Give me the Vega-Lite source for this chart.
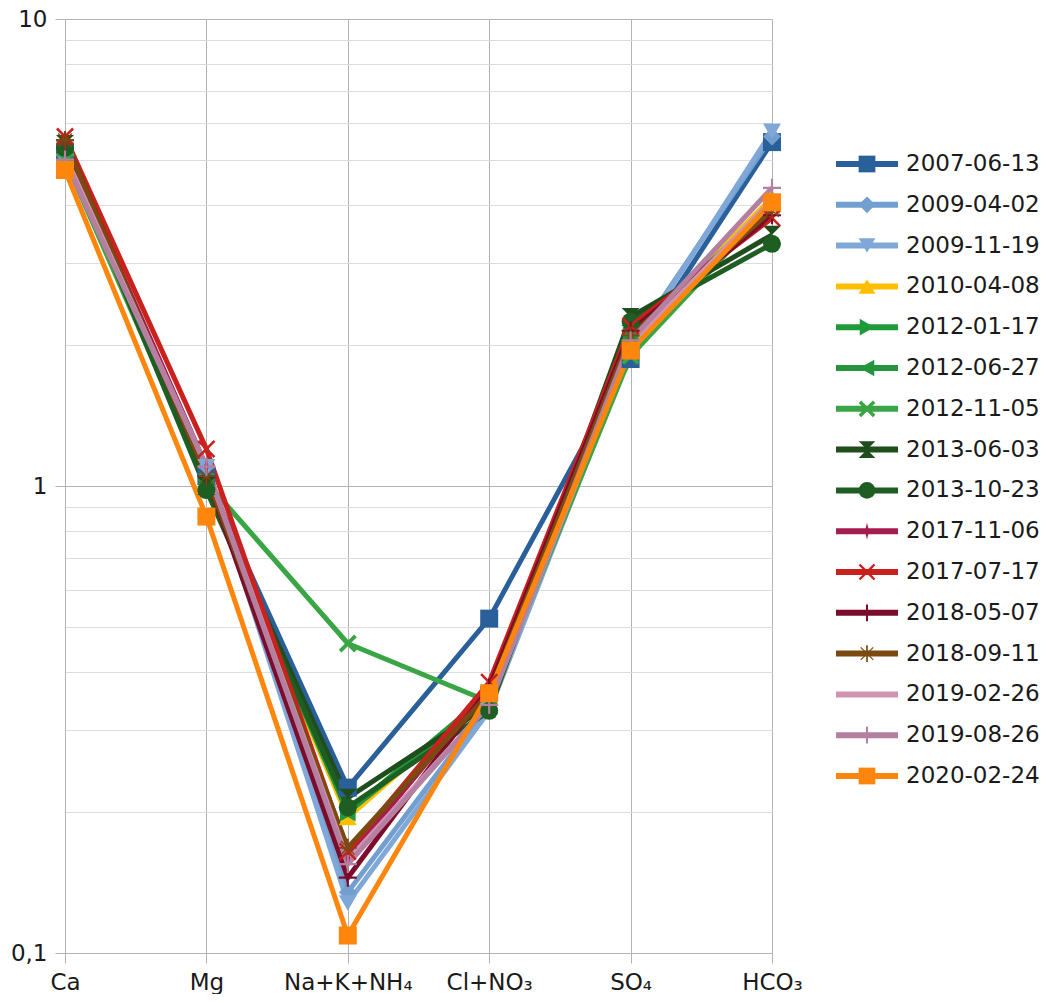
{
  "$schema": "https://vega.github.io/schema/vega-lite/v6.json",
  "padding": {"left": 10, "top": 8, "right": 0, "bottom": 0},
  "background": "white",
  "config": {"view": {"stroke": null}, "font": "DejaVu Sans"},
  "bounds": "flush",
  "spacing": 64,
  "data": {"values": [
    {"date":"2007-06-13","ion":"Ca","value":5.2},{"date":"2007-06-13","ion":"Mg","value":1.05},{"date":"2007-06-13","ion":"Na+K+NH₄","value":0.226},{"date":"2007-06-13","ion":"Cl+NO₃","value":0.52},{"date":"2007-06-13","ion":"SO₄","value":1.87},{"date":"2007-06-13","ion":"HCO₃","value":5.45},
    {"date":"2009-04-02","ion":"Ca","value":5.1},{"date":"2009-04-02","ion":"Mg","value":1.1},{"date":"2009-04-02","ion":"Na+K+NH₄","value":0.135},{"date":"2009-04-02","ion":"Cl+NO₃","value":0.34},{"date":"2009-04-02","ion":"SO₄","value":2.0},{"date":"2009-04-02","ion":"HCO₃","value":5.6},
    {"date":"2009-11-19","ion":"Ca","value":5.0},{"date":"2009-11-19","ion":"Mg","value":1.1},{"date":"2009-11-19","ion":"Na+K+NH₄","value":0.128},{"date":"2009-11-19","ion":"Cl+NO₃","value":0.33},{"date":"2009-11-19","ion":"SO₄","value":1.95},{"date":"2009-11-19","ion":"HCO₃","value":5.75},
    {"date":"2010-04-08","ion":"Ca","value":5.3},{"date":"2010-04-08","ion":"Mg","value":1.0},{"date":"2010-04-08","ion":"Na+K+NH₄","value":0.195},{"date":"2010-04-08","ion":"Cl+NO₃","value":0.36},{"date":"2010-04-08","ion":"SO₄","value":2.05},{"date":"2010-04-08","ion":"HCO₃","value":4.15},
    {"date":"2012-01-17","ion":"Ca","value":5.3},{"date":"2012-01-17","ion":"Mg","value":1.0},{"date":"2012-01-17","ion":"Na+K+NH₄","value":0.2},{"date":"2012-01-17","ion":"Cl+NO₃","value":0.36},{"date":"2012-01-17","ion":"SO₄","value":2.1},{"date":"2012-01-17","ion":"HCO₃","value":4.0},
    {"date":"2012-06-27","ion":"Ca","value":5.2},{"date":"2012-06-27","ion":"Mg","value":1.0},{"date":"2012-06-27","ion":"Na+K+NH₄","value":0.2},{"date":"2012-06-27","ion":"Cl+NO₃","value":0.35},{"date":"2012-06-27","ion":"SO₄","value":2.05},{"date":"2012-06-27","ion":"HCO₃","value":4.0},
    {"date":"2012-11-05","ion":"Ca","value":5.0},{"date":"2012-11-05","ion":"Mg","value":1.02},{"date":"2012-11-05","ion":"Na+K+NH₄","value":0.46},{"date":"2012-11-05","ion":"Cl+NO₃","value":0.345},{"date":"2012-11-05","ion":"SO₄","value":1.9},{"date":"2012-11-05","ion":"HCO₃","value":4.0},
    {"date":"2013-06-03","ion":"Ca","value":5.4},{"date":"2013-06-03","ion":"Mg","value":1.0},{"date":"2013-06-03","ion":"Na+K+NH₄","value":0.215},{"date":"2013-06-03","ion":"Cl+NO₃","value":0.34},{"date":"2013-06-03","ion":"SO₄","value":2.3},{"date":"2013-06-03","ion":"HCO₃","value":3.45},
    {"date":"2013-10-23","ion":"Ca","value":5.3},{"date":"2013-10-23","ion":"Mg","value":0.98},{"date":"2013-10-23","ion":"Na+K+NH₄","value":0.205},{"date":"2013-10-23","ion":"Cl+NO₃","value":0.33},{"date":"2013-10-23","ion":"SO₄","value":2.25},{"date":"2013-10-23","ion":"HCO₃","value":3.3},
    {"date":"2017-11-06","ion":"Ca","value":5.4},{"date":"2017-11-06","ion":"Mg","value":1.1},{"date":"2017-11-06","ion":"Na+K+NH₄","value":0.16},{"date":"2017-11-06","ion":"Cl+NO₃","value":0.37},{"date":"2017-11-06","ion":"SO₄","value":2.15},{"date":"2017-11-06","ion":"HCO₃","value":3.9},
    {"date":"2017-07-17","ion":"Ca","value":5.6},{"date":"2017-07-17","ion":"Mg","value":1.2},{"date":"2017-07-17","ion":"Na+K+NH₄","value":0.165},{"date":"2017-07-17","ion":"Cl+NO₃","value":0.38},{"date":"2017-07-17","ion":"SO₄","value":2.2},{"date":"2017-07-17","ion":"HCO₃","value":3.75},
    {"date":"2018-05-07","ion":"Ca","value":5.5},{"date":"2018-05-07","ion":"Mg","value":1.05},{"date":"2018-05-07","ion":"Na+K+NH₄","value":0.145},{"date":"2018-05-07","ion":"Cl+NO₃","value":0.37},{"date":"2018-05-07","ion":"SO₄","value":2.15},{"date":"2018-05-07","ion":"HCO₃","value":3.8},
    {"date":"2018-09-11","ion":"Ca","value":5.5},{"date":"2018-09-11","ion":"Mg","value":1.05},{"date":"2018-09-11","ion":"Na+K+NH₄","value":0.168},{"date":"2018-09-11","ion":"Cl+NO₃","value":0.36},{"date":"2018-09-11","ion":"SO₄","value":2.1},{"date":"2018-09-11","ion":"HCO₃","value":3.9},
    {"date":"2019-02-26","ion":"Ca","value":5.1},{"date":"2019-02-26","ion":"Mg","value":1.1},{"date":"2019-02-26","ion":"Na+K+NH₄","value":0.158},{"date":"2019-02-26","ion":"Cl+NO₃","value":0.34},{"date":"2019-02-26","ion":"SO₄","value":2.0},{"date":"2019-02-26","ion":"HCO₃","value":4.1},
    {"date":"2019-08-26","ion":"Ca","value":5.0},{"date":"2019-08-26","ion":"Mg","value":1.1},{"date":"2019-08-26","ion":"Na+K+NH₄","value":0.155},{"date":"2019-08-26","ion":"Cl+NO₃","value":0.34},{"date":"2019-08-26","ion":"SO₄","value":2.05},{"date":"2019-08-26","ion":"HCO₃","value":4.35},
    {"date":"2020-02-24","ion":"Ca","value":4.75},{"date":"2020-02-24","ion":"Mg","value":0.86},{"date":"2020-02-24","ion":"Na+K+NH₄","value":0.109},{"date":"2020-02-24","ion":"Cl+NO₃","value":0.36},{"date":"2020-02-24","ion":"SO₄","value":1.95},{"date":"2020-02-24","ion":"HCO₃","value":4.05}
  ]},
  "hconcat": [
    {
      "width": 707,
      "height": 934,
      "encoding": {
        "x": {"field": "ion", "type": "nominal", "sort": null,
          "scale": {"type": "point", "padding": 0, "domain": ["Ca","Mg","Na+K+NH₄","Cl+NO₃","SO₄","HCO₃"]},
          "axis": {"title": null, "labelAngle": 0, "grid": true, "gridColor": "#b3b3b3", "domainColor": "#b3b3b3", "tickColor": "#b3b3b3", "tickSize": 10, "labelFontSize": 23, "labelColor": "#1a1a1a", "labelPadding": 8, "labelFont": "DejaVu Sans"}},
        "y": {"field": "value", "type": "quantitative",
          "scale": {"type": "log", "domain": [0.1, 10], "nice": false},
          "axis": {"title": null, "values": [0.1,0.2,0.3,0.4,0.5,0.6,0.7,0.8,0.9,1,2,3,4,5,6,7,8,9,10],
            "labelExpr": "datum.value == 0.1 ? '0,1' : datum.value == 1 ? '1' : datum.value == 10 ? '10' : ''",
            "gridColor": {"condition": {"test": "datum.value == 1 || datum.value == 10 || datum.value == 0.1", "value": "#b3b3b3"}, "value": "#dddddd"},
            "tickOpacity": {"condition": {"test": "datum.value == 1 || datum.value == 10 || datum.value == 0.1", "value": 1}, "value": 0},
            "tickColor": "#b3b3b3", "domainColor": "#b3b3b3", "tickSize": 10, "labelFontSize": 23, "labelColor": "#1a1a1a", "labelPadding": 8, "labelFont": "DejaVu Sans", "labelOverlap": false}},
        "color": {"field": "date", "type": "nominal", "legend": null,
          "scale": {"domain": ["2007-06-13","2009-04-02","2009-11-19","2010-04-08","2012-01-17","2012-06-27","2012-11-05","2013-06-03","2013-10-23","2017-11-06","2017-07-17","2018-05-07","2018-09-11","2019-02-26","2019-08-26","2020-02-24"],
            "range": ["#2a6099","#729fcf","#7fa8d8","#ffbf00","#1f9a3a","#23963d","#3aa544","#1f4d1c","#1e5e22","#a51c4f","#c9211e","#7b0c2c","#7a4a10","#d093b3","#b47fa0","#ff860d"]}}
      },
      "layer": [
        {"mark": {"type": "line", "strokeWidth": 5}, "encoding": {"detail": {"field": "date"}}},
        {"mark": {"type": "point", "filled": true, "opacity": 1, "size": 324},
          "encoding": {"shape": {"field": "date", "type": "nominal", "legend": null,
            "scale": {"domain": ["2007-06-13","2009-04-02","2009-11-19","2010-04-08","2012-01-17","2012-06-27","2012-11-05","2013-06-03","2013-10-23","2017-11-06","2017-07-17","2018-05-07","2018-09-11","2019-02-26","2019-08-26","2020-02-24"],
              "range": ["square","diamond","triangle-down","triangle-up","triangle-right","triangle-left",
                "M-1,-0.7L-0.7,-1L0,-0.3L0.7,-1L1,-0.7L0.3,0L1,0.7L0.7,1L0,0.3L-0.7,1L-1,0.7L-0.3,0Z",
                "M-1,-1L1,-1L-1,1L1,1Z",
                "circle",
                "M0,-1L0.25,0L0,1L-0.25,0Z",
                "M-1,-0.8L-0.8,-1L0,-0.2L0.8,-1L1,-0.8L0.2,0L1,0.8L0.8,1L0,0.2L-0.8,1L-1,0.8L-0.2,0Z",
                "M-0.12,-1H0.12V-0.12H1V0.12H0.12V1H-0.12V0.12H-1V-0.12H-0.12Z",
                "M-0.1,-1H0.1V-0.1H1V0.1H0.1V1H-0.1V0.1H-1V-0.1H-0.1ZM-0.8,-0.7L-0.7,-0.8L0.8,0.7L0.7,0.8ZM0.7,-0.8L0.8,-0.7L-0.7,0.8L-0.8,0.7Z",
                "M0,0Z",
                "M-0.12,-1H0.12V-0.12H1V0.12H0.12V1H-0.12V0.12H-1V-0.12H-0.12Z",
                "square"]}}}}
      ]
    },
    {
      "width": 210,
      "height": 934,
      "transform": [{"filter": "datum.ion == 'Ca'"}],
      "encoding": {
        "y": {"field": "date", "type": "nominal", "sort": null, "axis": null,
          "scale": {"type": "point", "padding": 0, "range": [145, 757]}},
        "color": {"field": "date", "type": "nominal", "legend": null,
          "scale": {"domain": ["2007-06-13","2009-04-02","2009-11-19","2010-04-08","2012-01-17","2012-06-27","2012-11-05","2013-06-03","2013-10-23","2017-11-06","2017-07-17","2018-05-07","2018-09-11","2019-02-26","2019-08-26","2020-02-24"],
            "range": ["#2a6099","#729fcf","#7fa8d8","#ffbf00","#1f9a3a","#23963d","#3aa544","#1f4d1c","#1e5e22","#a51c4f","#c9211e","#7b0c2c","#7a4a10","#d093b3","#b47fa0","#ff860d"]}}
      },
      "layer": [
        {"mark": {"type": "rule", "strokeWidth": 6},
          "encoding": {"x": {"datum": 0, "type": "quantitative", "scale": {"domain": [0, 210], "nice": false, "zero": false}, "axis": null}, "x2": {"datum": 62}}},
        {"mark": {"type": "point", "filled": true, "opacity": 1, "size": 280},
          "encoding": {"x": {"datum": 31, "type": "quantitative"},
            "shape": {"field": "date", "type": "nominal", "legend": null,
              "scale": {"domain": ["2007-06-13","2009-04-02","2009-11-19","2010-04-08","2012-01-17","2012-06-27","2012-11-05","2013-06-03","2013-10-23","2017-11-06","2017-07-17","2018-05-07","2018-09-11","2019-02-26","2019-08-26","2020-02-24"],
                "range": ["square","diamond","triangle-down","triangle-up","triangle-right","triangle-left",
                  "M-1,-0.7L-0.7,-1L0,-0.3L0.7,-1L1,-0.7L0.3,0L1,0.7L0.7,1L0,0.3L-0.7,1L-1,0.7L-0.3,0Z",
                  "M-1,-1L1,-1L-1,1L1,1Z",
                  "circle",
                  "M0,-1L0.25,0L0,1L-0.25,0Z",
                  "M-1,-0.8L-0.8,-1L0,-0.2L0.8,-1L1,-0.8L0.2,0L1,0.8L0.8,1L0,0.2L-0.8,1L-1,0.8L-0.2,0Z",
                  "M-0.12,-1H0.12V-0.12H1V0.12H0.12V1H-0.12V0.12H-1V-0.12H-0.12Z",
                  "M-0.1,-1H0.1V-0.1H1V0.1H0.1V1H-0.1V0.1H-1V-0.1H-0.1ZM-0.8,-0.7L-0.7,-0.8L0.8,0.7L0.7,0.8ZM0.7,-0.8L0.8,-0.7L-0.7,0.8L-0.8,0.7Z",
                  "M0,0Z",
                  "M-0.12,-1H0.12V-0.12H1V0.12H0.12V1H-0.12V0.12H-1V-0.12H-0.12Z",
                  "square"]}}}},
        {"mark": {"type": "text", "align": "left", "baseline": "middle", "fontSize": 23, "font": "DejaVu Sans", "color": "#1a1a1a"},
          "encoding": {"x": {"datum": 70, "type": "quantitative"}, "text": {"field": "date"}, "color": {"value": "#1a1a1a"}}}
      ]
    }
  ]
}
